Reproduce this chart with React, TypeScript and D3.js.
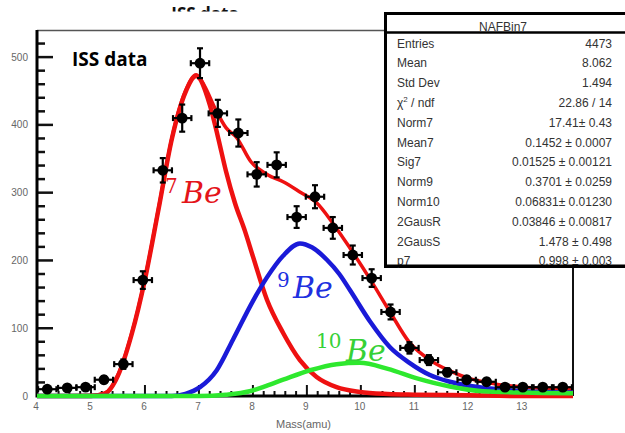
import React from "react";
import * as d3 from "d3";

// ---- data ----
const pointMass = [4.19, 4.56, 4.9, 5.24, 5.6, 5.96, 6.33, 6.69, 7.02, 7.35, 7.73, 8.07, 8.44, 8.81, 9.15, 9.48, 9.85, 10.2, 10.55, 10.9, 11.26, 11.6, 11.96, 12.33, 12.67, 13.0, 13.37, 13.74];
const pointCounts = [10, 12, 13, 24, 47, 171, 333, 410, 491, 417, 388, 327, 341, 264, 294, 248, 208, 174, 124, 71, 53, 35, 24, 21, 13, 13, 13, 13];
const pointErr = [3.2, 3.5, 3.6, 4.9, 6.9, 13, 18, 20, 22, 20, 20, 18, 18.5, 16, 17, 16, 14, 13, 11, 8.4, 7.3, 5.9, 4.9, 4.6, 3.6, 3.6, 3.6, 3.6];
const binHalfWidth = 0.17;

const totalMass = [4, 5.0, 5.25, 5.5, 5.75, 6.0, 6.25, 6.5, 6.75, 6.95, 7.1, 7.3, 7.5, 7.7, 7.96, 8.28, 8.56, 8.87, 9.18, 9.48, 9.8, 10.15, 10.54, 10.9, 11.28, 11.65, 12.0, 12.4, 12.75, 13.2, 13.93];
const totalCounts = [0, 1, 4, 31, 91, 173, 276, 381, 450, 474, 458, 424, 396, 381, 346, 326, 316, 301, 285, 255, 218, 175, 124, 79, 53, 37, 26, 19, 15, 12, 9];

const be7Mass = [4, 5.0, 5.25, 5.5, 5.75, 6.0, 6.25, 6.5, 6.75, 6.95, 7.2, 7.35, 7.5, 7.67, 7.85, 8.0, 8.26, 8.56, 8.87, 9.18, 9.55, 9.98, 10.5, 11.0, 12.0, 13.0, 13.93];
const be7Counts = [0, 0, 3, 30, 90, 172, 275, 380, 448, 472, 430, 383, 332, 284, 244, 206, 142, 93, 53, 28, 13, 6, 3, 2, 1, 0, 0];

const be9Mass = [4, 6.5, 6.75, 7.02, 7.33, 7.63, 8.0, 8.26, 8.56, 8.87, 9.1, 9.37, 9.6, 9.8, 10.17, 10.54, 10.9, 11.28, 11.65, 12.0, 12.4, 13.0, 13.93];
const be9Counts = [0, 0, 3, 13, 38, 83, 140, 175, 207, 225, 219, 201, 180, 156, 110, 72, 49, 31, 21, 15, 11, 7, 5];

const be10Mass = [4, 7.0, 7.5, 7.94, 8.25, 8.56, 9.06, 9.55, 9.98, 10.5, 11.04, 11.65, 12.26, 13.0, 13.93];
const be10Counts = [0, 0, 2, 7, 15, 24, 38, 47, 49, 40, 26, 14, 7, 5, 4];

const xTickLabels = [4, 5, 6, 7, 8, 9, 10, 11, 12, 13];
const yTickLabels = [0, 100, 200, 300, 400, 500];

const statLabels = ["Entries", "Mean", "Std Dev", "CHI", "Norm7", "Mean7", "Sig7", "Norm9", "Norm10", "2GausR", "2GausS", "p7"];
const statValues = ["4473", "8.062", "1.494", "22.86 / 14", "17.41\u00b1 0.43", "0.1452 \u00b1 0.0007", "0.01525 \u00b1 0.00121", "0.3701 \u00b1 0.0259", "0.06831\u00b1 0.01230", "0.03846 \u00b1 0.00817", "1.478 \u00b1 0.498", "0.998 \u00b1 0.003"];

// ---- layout ----
const W = 625, H = 433;
const X0 = 37, X1 = 573, Y0 = 396, Y1 = 30;

export default function App() {
  const x = d3.scaleLinear().domain([4, 13.93]).range([X0, X1]);
  const y = d3.scaleLinear().domain([0, 540]).range([Y0, Y1]);

  const line = (xs: number[], ys: number[]) =>
    d3.line<number>()
      .x((_, i) => x(xs[i]))
      .y((d) => y(d))
      .curve(d3.curveMonotoneX)(ys) as string;

  const yMinor = d3.range(0, 521, 20);
  const xMinor = d3.range(4, 13.9, 0.2).map((v) => Math.round(v * 10) / 10);

  const RED = "#ee1111", BLUE = "#1a1ad8", GREEN = "#2ee82e";
  const sans = "'Liberation Sans', Arial, sans-serif";
  const serif = "'DejaVu Serif', serif";

  return (
    <svg width={W} height={H} style={{ position: "absolute", left: 0, top: 0, background: "#fff" }}>
      <defs>
        <clipPath id="plot">
          <rect x={X0} y={Y1} width={X1 - X0} height={Y0 - Y1 + 4} />
        </clipPath>
        <clipPath id="titleclip">
          <rect x={0} y={0} width={W} height={11.5} />
        </clipPath>
      </defs>
      <rect width={W} height={H} fill="#fff" />

      {/* clipped top title */}
      <g clipPath="url(#titleclip)">
        <text x={205} y={20} textAnchor="middle" fontFamily="'Open Sans', sans-serif" fontWeight={700} fontSize={17} fill="#111">ISS data</text>
      </g>

      {/* frame */}
      <line x1={X0} x2={386} y1={30.5} y2={30.5} stroke="#555" strokeWidth={1.5} />
      <line x1={X1} x2={X1} y1={266} y2={Y0} stroke="#111" strokeWidth={2} />

      {/* y ticks */}
      {yMinor.map((v) => (
        <line key={"yt" + v} x1={X0} x2={X0 + (v % 100 === 0 ? 16 : 8)} y1={y(v)} y2={y(v)} stroke="#111" strokeWidth={2.5} />
      ))}
      {yTickLabels.map((v) => (
        <text key={"yl" + v} x={28} y={y(v)} dy="0.35em" textAnchor="end" fontFamily={sans} fontSize={10} fill="#666">{v}</text>
      ))}
      {/* x ticks */}
      {xMinor.map((v) => {
        const major = Math.abs(v - Math.round(v)) < 1e-6;
        return <line key={"xt" + v} x1={x(v)} x2={x(v)} y1={Y0} y2={Y0 - (major ? 11 : 5)} stroke="#111" strokeWidth={2} />;
      })}
      {xTickLabels.map((v) => (
        <text key={"xl" + v} x={x(v) - 1} y={410} textAnchor="middle" fontFamily={sans} fontSize={10} fill="#666">{v}</text>
      ))}
      <text x={276} y={428} fontFamily={sans} fontSize={11} fill="#666">Mass(amu)</text>

      {/* axes */}
      <line x1={X0} x2={X0} y1={Y1} y2={Y0 + 1.5} stroke="#000" strokeWidth={3} />
      <line x1={X0} x2={X1} y1={Y0} y2={Y0} stroke="#000" strokeWidth={3} />

      {/* curves */}
      <g clipPath="url(#plot)" fill="none" strokeLinejoin="round" strokeLinecap="round">
        <path d={line(totalMass, totalCounts)} stroke={RED} strokeWidth={3.5} />
        <path d={line(be7Mass, be7Counts)} stroke={RED} strokeWidth={4.5} />
        <path d={line(be9Mass, be9Counts)} stroke={BLUE} strokeWidth={4.5} />
        <path d={line(be10Mass, be10Counts)} stroke={GREEN} strokeWidth={4.5} />
      </g>

      {/* data points */}
      <g>
        {pointMass.map((m, i) => {
          const cx = x(m), cy = y(pointCounts[i]);
          const yt = y(pointCounts[i] + pointErr[i]), yb = y(pointCounts[i] - pointErr[i]);
          const xl = x(m - binHalfWidth), xr = x(m + binHalfWidth);
          return (
            <g key={"p" + i} stroke="#000" strokeWidth={2.2}>
              <line x1={cx} x2={cx} y1={yt} y2={yb} />
              <line x1={xl} x2={xr} y1={cy} y2={cy} />
              <line x1={cx - 3} x2={cx + 3} y1={yt} y2={yt} />
              <line x1={cx - 3} x2={cx + 3} y1={yb} y2={yb} />
              <line x1={xl} x2={xl} y1={cy - 3} y2={cy + 3} />
              <line x1={xr} x2={xr} y1={cy - 3} y2={cy + 3} />
              <circle cx={cx} cy={cy} r={5.4} fill="#000" stroke="none" />
            </g>
          );
        })}
      </g>

      {/* inner label */}
      <text x={72} y={66} fontFamily="'Open Sans', sans-serif" fontWeight={700} fontSize={19} fill="#000">ISS data</text>

      {/* isotope labels */}
      <text x={165} y={193} fontFamily={serif} fontSize={20} fill="#e4141a">7</text>
      <text x={182} y={203} fontFamily={serif} fontStyle="italic" fontSize={30} fill="#e4141a">Be</text>
      <text x={277} y={287} fontFamily={serif} fontSize={20} fill="#2030e0">9</text>
      <text x={293} y={298} fontFamily={serif} fontStyle="italic" fontSize={30} fill="#2030e0">Be</text>
      <text x={316} y={348} fontFamily={serif} fontSize={20} fill="#36d136">10</text>
      <text x={346} y={361} fontFamily={serif} fontStyle="italic" fontSize={30} fill="#36d136">Be</text>

      {/* stats box */}
      <rect x={385.5} y={13.5} width={260} height={253} fill="#fff" stroke="#000" strokeWidth={3} />
      <text x={503} y={31} textAnchor="middle" fontFamily={sans} fontSize={12} fill="#333">NAFBin7</text>
      <line x1={385} x2={W} y1={32.5} y2={32.5} stroke="#000" strokeWidth={2.5} />
      {statLabels.map((lab, i) => {
        const by = 47.5 + i * 19.8;
        return (
          <g key={"s" + i} fontFamily={sans} fontSize={12} fill="#333">
            {lab === "CHI" ? (
              <text x={397} y={by}>
                {"\u03c7"}<tspan dy={-5} fontSize={8}>2</tspan><tspan dy={5}>{" / ndf"}</tspan>
              </text>
            ) : (
              <text x={397} y={by}>{lab}</text>
            )}
            <text x={612} y={by} textAnchor="end">{statValues[i]}</text>
          </g>
        );
      })}
      <line x1={385} x2={W} y1={266} y2={266} stroke="#000" strokeWidth={3} />
    </svg>
  );
}
